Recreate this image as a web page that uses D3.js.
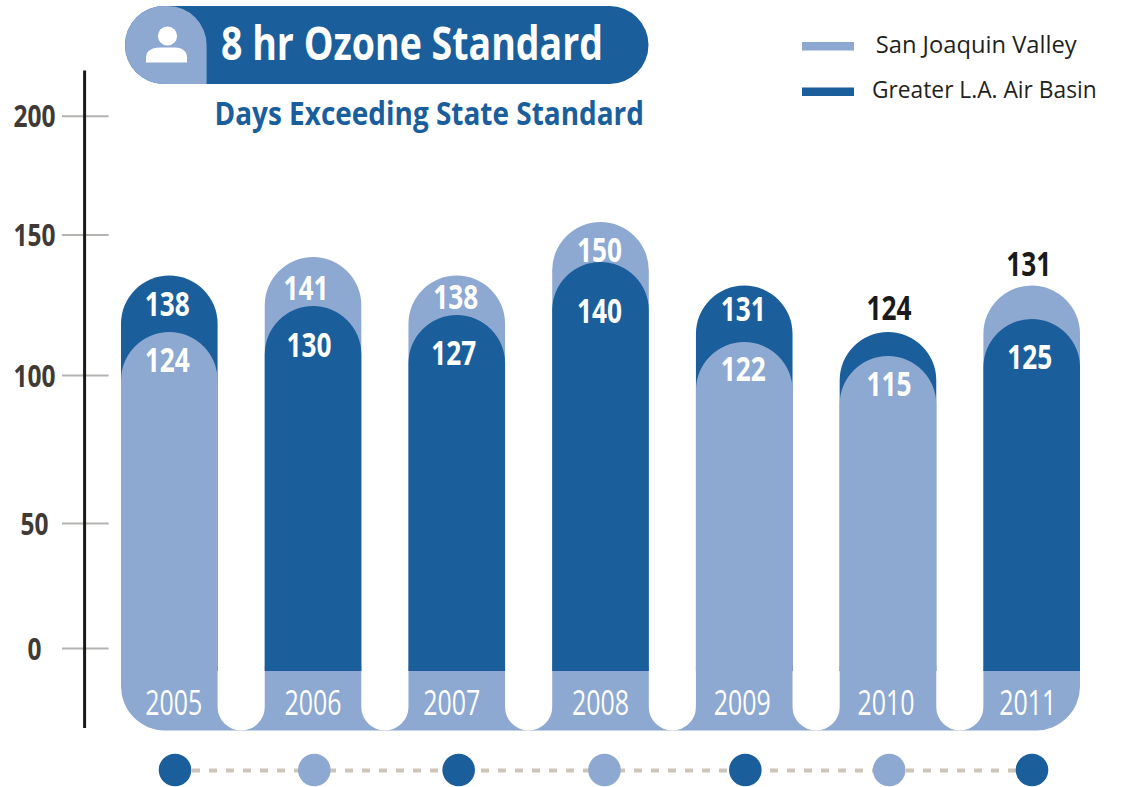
<!DOCTYPE html>
<html>
<head>
<meta charset="utf-8">
<title>8 hr Ozone Standard</title>
<script src="https://cdn.jsdelivr.net/npm/d3@7"></script>
<style>
  html, body { margin: 0; background: #fff; }
  svg { display: block; }
  .sans { font-family: "Open Sans", "Noto Sans", sans-serif; }
</style>
</head>
<body>
<div id="chart"></div>
<script>
// values
const years = ["2005", "2006", "2007", "2008", "2009", "2010", "2011"];
const sanJoaquin = [124, 141, 138, 150, 122, 115, 131];
const greaterLA = [138, 130, 127, 140, 131, 124, 125];
const axisTicks = [0, 50, 100, 150, 200];

const seriesNames = ["San Joaquin Valley", "Greater L.A. Air Basin"];

const dark = "#1a5e9b";
const light = "#8da8d1";

let width = 1122, height = 787;

let svg = d3.select("#chart")
    .append("svg")
    .attr("width", width)
    .attr("height", height);

// the axis of the original is not evenly spaced
let y = d3.scaleLinear()
    .domain(axisTicks)
    .range([648, 523, 375, 234.5, 115.7]);

// the bars do not line up with the axis either, so they get their own scale
let barY = d3.scaleLinear()
    .domain([115, 122, 124, 125, 127, 130, 131, 138, 140, 141, 150])
    .range([356, 342, 332, 319, 315, 306, 285.5, 275.5, 262, 257, 222]);

let x = d3.scaleBand()
    .domain(years)
    .range([121, 1080])
    .paddingInner(0.328);

let dotX = d3.scalePoint()
    .domain(years)
    .range([175, 1032]);

// where the bars stop and where the light strip under them ends, in axis units
let barFoot = y(-9.2);
let stripFoot = y(-33);
let bw = x.bandwidth();

// label offsets from the top and the centre of each bar
let sjvLabelDy = [28, 31, 21.5, 28, 27, 28, -21.5];
let laLabelDy = [28.5, 39, 38, 49, 23.5, -24, 38];
let sjvLabelDx = [-2, -7, -1, -1, -1, 1, -3];
let laLabelDx = [-2, -4, -3, -1, -1, 1, -2];
let yearLabelDx = [4.5, 0, -5, 0, -2, -2, -4];
let dotDx = [0, -3.5, -2, 1, -1, 0, 0];

// no condensed face is installed, so digits get squeezed to the width they have in the original
function numberWidth(text, perDigit) {
    return String(text).length * perDigit;
}

function roundTop(x0, x1, top, bottom) {
    let r = (x1 - x0) / 2;
    let p = d3.path();
    p.moveTo(x0, bottom);
    p.lineTo(x0, top + r);
    p.arc(x0 + r, top + r, r, Math.PI, 0);
    p.lineTo(x1, bottom);
    p.closePath();
    return p.toString();
}

function stripPath(x0, x1, top, bottom, r) {
    let p = d3.path();
    p.moveTo(x0, top);
    p.lineTo(x1, top);
    p.lineTo(x1, bottom - r);
    p.arcTo(x1, bottom, x1 - r, bottom, r);
    p.lineTo(x0 + r, bottom);
    p.arcTo(x0, bottom, x0, bottom - r, r);
    p.closePath();
    return p.toString();
}

// light strip along the bottom
svg.append("path")
    .attr("d", stripPath(x(years[0]), x(years[6]) + bw, barFoot - 5, stripFoot, 44))
    .attr("fill", light);

// white gaps between the bars, they end round
svg.selectAll("rect.gap")
    .data(years.slice(0, -1))
    .enter()
    .append("rect")
    .attr("class", "gap")
    .attr("x", d => x(d) + bw)
    .attr("width", x.step() - bw)
    .attr("y", barFoot - 40)
    .attr("height", stripFoot - barFoot + 40)
    .attr("rx", (x.step() - bw) / 2)
    .attr("fill", "#fff");

// bars, the taller one of each year goes behind
let rows = years.map((year, i) => ({
    year: year,
    marks: [
        {value: sanJoaquin[i], fill: light, dy: sjvLabelDy[i], dx: sjvLabelDx[i]},
        {value: greaterLA[i], fill: dark, dy: laLabelDy[i], dx: laLabelDx[i]}
    ].sort((a, b) => b.value - a.value)
}));

let col = svg.selectAll("g.col")
    .data(rows)
    .enter()
    .append("g")
    .attr("class", "col");

col.selectAll("path")
    .data(d => d.marks.map(m => ({year: d.year, value: m.value, fill: m.fill})))
    .enter()
    .append("path")
    .attr("d", d => roundTop(x(d.year), x(d.year) + bw, barY(d.value), barFoot))
    .attr("fill", d => d.fill);

col.selectAll("text.value")
    .data(d => d.marks.map(m => ({year: d.year, value: m.value, dy: m.dy, dx: m.dx})))
    .enter()
    .append("text")
    .attr("class", "value sans")
    .attr("x", d => x(d.year) + bw / 2 + d.dx)
    .attr("y", d => barY(d.value) + d.dy + 12)
    .attr("text-anchor", "middle")
    .attr("font-size", 34)
    .attr("font-weight", 700)
    .attr("textLength", d => numberWidth(d.value, 15))
    .attr("lengthAdjust", "spacingAndGlyphs")
    .attr("fill", d => d.dy < 0 ? "#1a1a1a" : "#fff")
    .text(d => d.value);

// year labels sit on the strip
svg.selectAll("text.year")
    .data(years)
    .enter()
    .append("text")
    .attr("class", "year sans")
    .attr("x", (d, i) => x(d) + bw / 2 + yearLabelDx[i])
    .attr("y", 715)
    .attr("text-anchor", "middle")
    .attr("font-size", 35)
    .attr("font-weight", 400)
    .attr("textLength", 57)
    .attr("lengthAdjust", "spacingAndGlyphs")
    .attr("fill", "#fff")
    .text(d => d);

// y axis, ticks cross the line
let yAxis = svg.append("g")
    .attr("transform", "translate(108.6,0)")
    .call(d3.axisLeft(y).tickValues(axisTicks).tickSize(46.6));

yAxis.select(".domain").remove();
yAxis.selectAll(".tick line")
    .attr("stroke", "#b5b3b0")
    .attr("stroke-width", 2);
yAxis.selectAll(".tick text")
    .attr("class", "sans")
    .attr("x", -74)
    .attr("dy", "0.36em")
    .attr("text-anchor", "middle")
    .attr("font-size", 31)
    .attr("font-weight", 700)
    .attr("font-family", null)
    .attr("textLength", d => numberWidth(d, 14))
    .attr("lengthAdjust", "spacingAndGlyphs")
    .attr("fill", "#3f3a36");

svg.append("line")
    .attr("x1", 84.6)
    .attr("x2", 84.6)
    .attr("y1", y(219))
    .attr("y2", y(-32))
    .attr("stroke", "#1a1a1a")
    .attr("stroke-width", 3);

// title pill
svg.append("rect")
    .attr("x", 125)
    .attr("y", 6)
    .attr("width", 523.5)
    .attr("height", 78)
    .attr("rx", 39)
    .attr("fill", dark);

svg.append("path")
    .attr("d", "M206.6,84 L164,84 A39,39 0 0 1 164,6 L168,6 A39,39 0 0 1 206.6,45 Z")
    .attr("fill", light);

// person icon
svg.append("circle")
    .attr("cx", 167.5)
    .attr("cy", 36)
    .attr("r", 9.6)
    .attr("fill", "#fff");
svg.append("path")
    .attr("d", "M146,62.5 L146,58 Q146,48 160,47.5 L175,47.5 Q187,48 187,58 L187,62.5 Z")
    .attr("fill", "#fff");

svg.append("text")
    .attr("class", "sans")
    .attr("x", 221)
    .attr("y", 59.5)
    .attr("font-size", 46)
    .attr("font-weight", 700)
    .attr("textLength", 382)
    .attr("lengthAdjust", "spacingAndGlyphs")
    .attr("fill", "#fff")
    .text("8 hr Ozone Standard");

svg.append("text")
    .attr("class", "sans")
    .attr("x", 214.5)
    .attr("y", 125)
    .attr("font-size", 32)
    .attr("font-weight", 700)
    .attr("textLength", 429.5)
    .attr("lengthAdjust", "spacingAndGlyphs")
    .attr("fill", dark)
    .text("Days Exceeding State Standard");

// legend
let legend = svg.selectAll("g.legend")
    .data(seriesNames)
    .enter()
    .append("g")
    .attr("class", "legend");

legend.append("rect")
    .attr("x", 802)
    .attr("y", (d, i) => i ? 87.5 : 42)
    .attr("width", 52)
    .attr("height", 8.5)
    .attr("fill", (d, i) => i ? dark : light);

legend.append("text")
    .attr("class", "sans")
    .attr("x", (d, i) => i ? 872 : 875.7)
    .attr("y", (d, i) => i ? 97.7 : 53.3)
    .attr("font-size", 23.5)
    .attr("textLength", (d, i) => i ? 224.7 : 201)
    .attr("lengthAdjust", "spacingAndGlyphs")
    .attr("fill", "#231f20")
    .text(d => d);

// dotted timeline under the chart
svg.append("line")
    .attr("x1", dotX(years[0]))
    .attr("x2", dotX(years[6]))
    .attr("y1", 770.5)
    .attr("y2", 770.5)
    .attr("stroke", "#cdc5b7")
    .attr("stroke-width", 4)
    .attr("stroke-dasharray", "8,9");

svg.selectAll("circle.dot")
    .data(years)
    .enter()
    .append("circle")
    .attr("class", "dot")
    .attr("cx", (d, i) => dotX(d) + dotDx[i])
    .attr("cy", 770)
    .attr("r", 16.3)
    .attr("fill", (d, i) => i % 2 ? light : dark);
</script>
</body>
</html>
